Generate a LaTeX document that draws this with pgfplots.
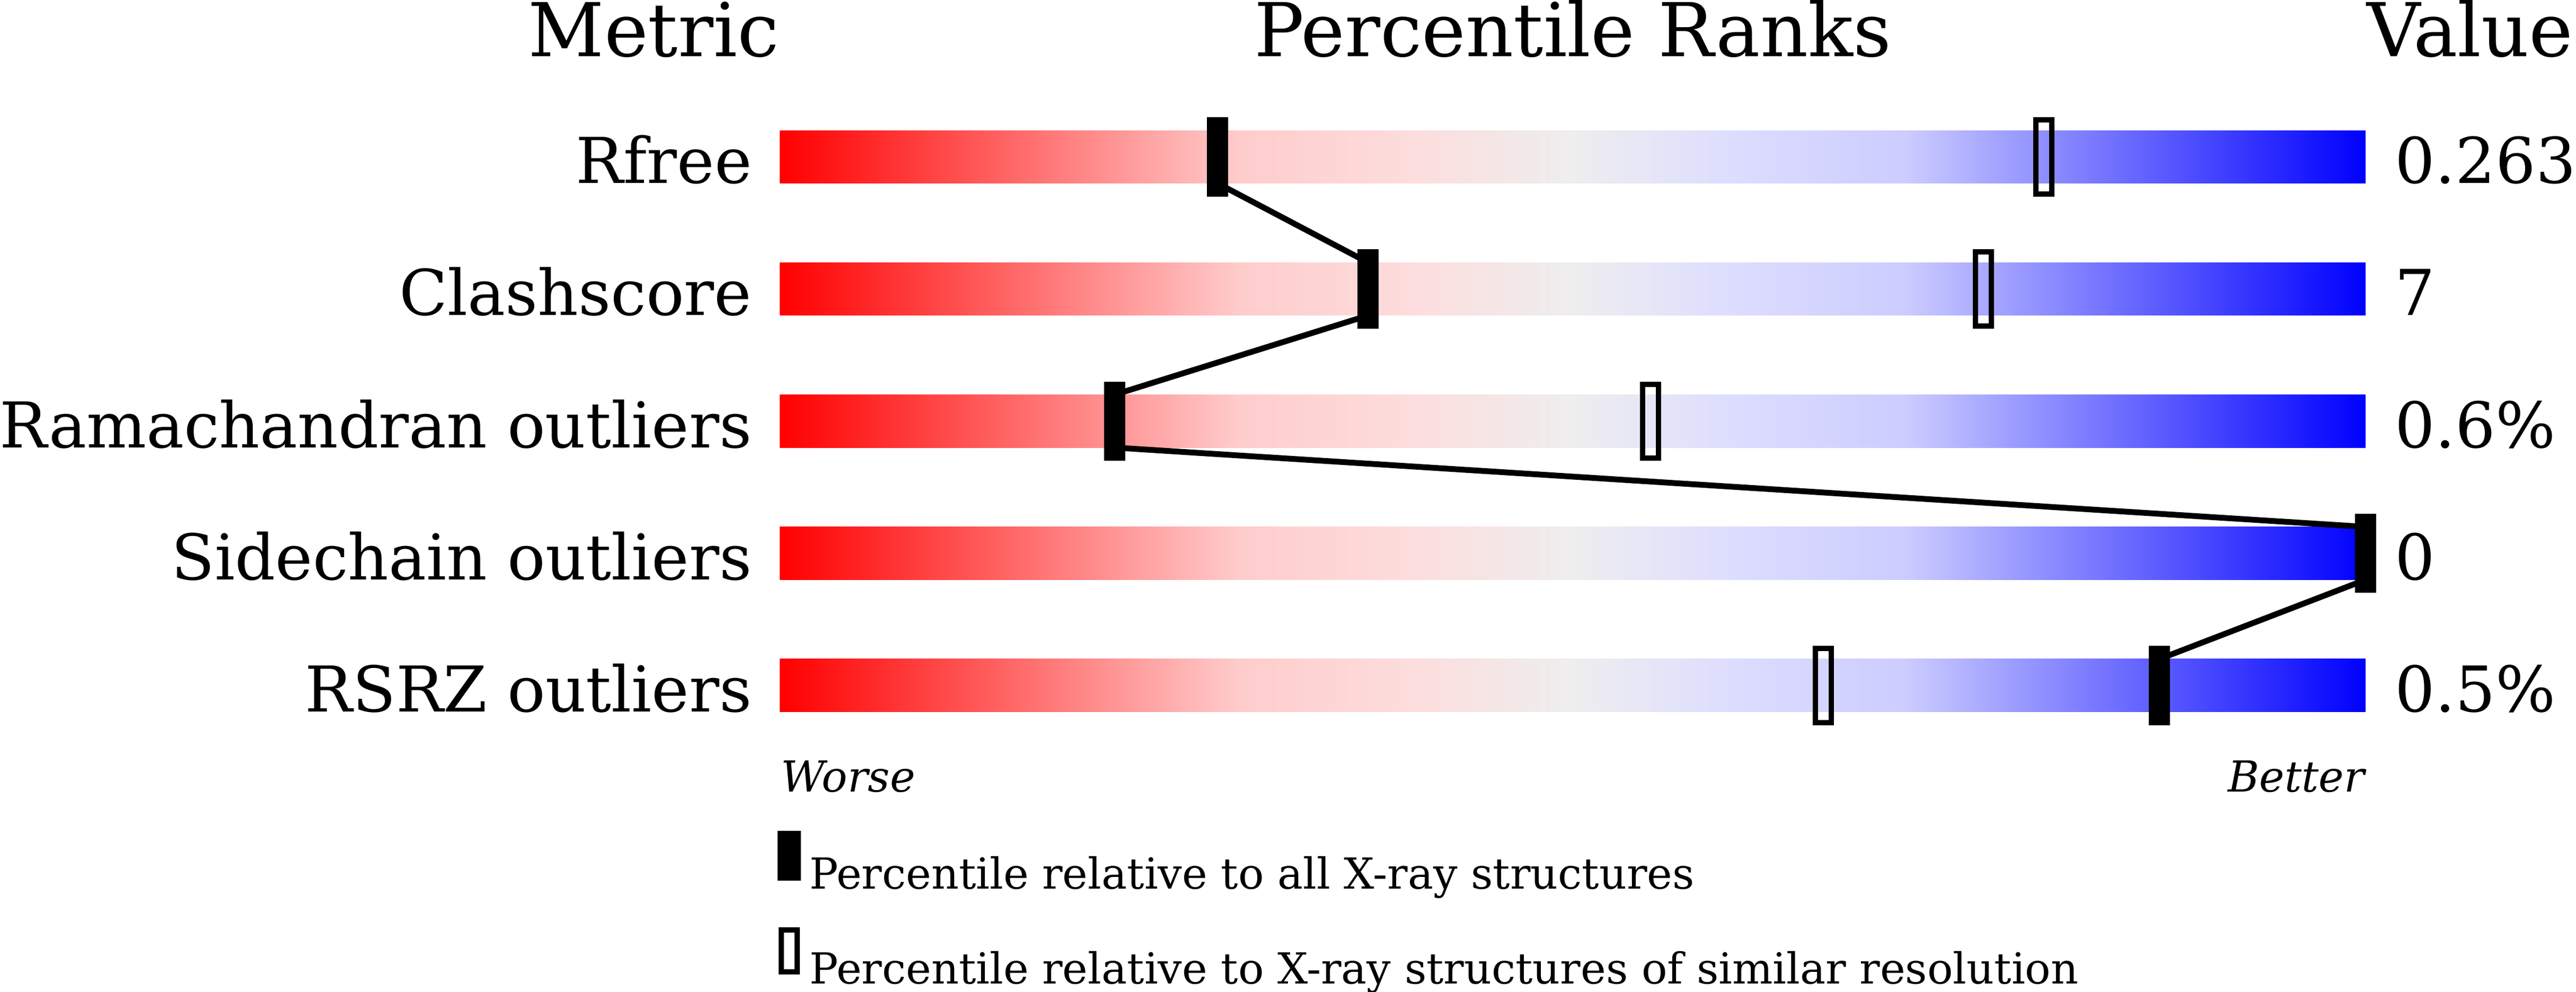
\documentclass[border=0pt]{standalone}
\usepackage{pgfplots}
\pgfplotsset{compat=1.18}
\usepackage{pgfplotstable}
\usepackage{fontspec}
\setmainfont{DejaVu Serif}

% font sizes (1 px = 0.1pt)
\newcommand\fH{\fontsize{14.05}{16}\selectfont}
\newcommand\fR{\fontsize{11.95}{14}\selectfont}
\newcommand\fS{\fontsize{8.09}{10}\selectfont}

\definecolor{pkA}{HTML}{FFCCCC}
\definecolor{pkB}{HTML}{FDDDDD}
\definecolor{grM}{HTML}{EEEEEE}
\definecolor{lvB}{HTML}{DDDDFF}
\definecolor{lvA}{HTML}{CCCCFF}
\pgfdeclarehorizontalshading{prank}{100bp}{color(0bp)=(red); color(25bp)=(red);
  color(39.5bp)=(pkA); color(45bp)=(pkB); color(50bp)=(grM); color(55bp)=(lvB);
  color(60.5bp)=(lvA); color(75bp)=(blue); color(100bp)=(blue)}

\pgfdeclareplotmark{pall}{\pgfpathrectangle{\pgfpoint{-2pt}{-7.5pt}}{\pgfpoint{4pt}{15pt}}\pgfusepathqfill}
\pgfdeclareplotmark{psim}{\pgfpathrectangle{\pgfpoint{-1.5pt}{-7pt}}{\pgfpoint{3pt}{14pt}}\pgfusepathqstroke}

% percentile ranks: all X-ray structures / similar resolution
\pgfplotstableread{
row all  sim
0   27.6 79.7
1   37.1 75.9
2   21.1 54.9
3   100  nan
4   87.0 65.8
}\ranks

% line joining the "all" markers (bar bottom -> next bar top)
\pgfplotstableread{
x    y
27.6 0.2
37.1 0.8
37.1 1.2
21.1 1.8
21.1 2.2
100  2.8
100  3.2
87.0 3.8
}\link

\begin{document}
\begin{tikzpicture}
\begin{axis}[
    scale only axis,
    width=300.1pt, height=183.5pt,
    xmin=0, xmax=100,
    ymin=-1.187, ymax=6.153,
    y dir=reverse,
    axis line style={draw=none},
    tick style={draw=none},
    xtick=\empty,
    ytick={0,1,2,3,4},
    yticklabels={Rfree,Clashscore,Ramachandran outliers,Sidechain outliers,RSRZ outliers},
    yticklabel style={anchor=base east, inner sep=0pt, xshift=-5.1pt, yshift=-5pt, font=\fR},
    clip=false,
    legend style={at={(axis cs:-0.13,5.101)}, anchor=north west, draw=none, fill=none,
        inner sep=0pt, outer sep=0pt, row sep=5.8pt, column sep=1.6pt,
        nodes={inner sep=0pt, font=\fS}},
    legend cell align=left,
]

% gradient sliders
\addplot[draw=none, shade, shading=prank, forget plot] coordinates {(0,-0.2) (100,-0.2) (100,0.2) (0,0.2)};
\addplot[draw=none, shade, shading=prank, forget plot] coordinates {(0,0.8) (100,0.8) (100,1.2) (0,1.2)};
\addplot[draw=none, shade, shading=prank, forget plot] coordinates {(0,1.8) (100,1.8) (100,2.2) (0,2.2)};
\addplot[draw=none, shade, shading=prank, forget plot] coordinates {(0,2.8) (100,2.8) (100,3.2) (0,3.2)};
\addplot[draw=none, shade, shading=prank, forget plot] coordinates {(0,3.8) (100,3.8) (100,4.2) (0,4.2)};

\addplot[black, line width=1.1pt, line join=round, forget plot] table[x=x, y=y] {\link};

\addplot[only marks, black, mark=pall,
    legend image code/.code={\fill[black] (0pt,-0.6pt) rectangle (4pt,8.4pt);}]
    table[x=all, y=row] {\ranks};
\addlegendentry{Percentile relative to all X-ray structures}
\addplot[only marks, black, mark=psim, mark options={line width=1pt},
    legend image code/.code={\draw[black, line width=1pt] (0.5pt,0pt) rectangle (3.5pt,7.9pt);}]
    table[x=sim, y=row] {\ranks};
\addlegendentry{Percentile relative to X-ray structures of similar resolution}

% headers
\node[anchor=base east, inner sep=0pt, font=\fH] at (axis cs:0,-0.759) {Metric};
\node[anchor=base, inner sep=0pt, font=\fH] at (axis cs:50,-0.759) {Percentile Ranks};
\node[anchor=base west, inner sep=0pt, font=\fH] at (axis cs:100,-0.759) {Value};

% values
\node[anchor=base west, inner sep=0pt, font=\fR] at (axis cs:101.8,0.2) {0.263};
\node[anchor=base west, inner sep=0pt, font=\fR] at (axis cs:101.8,1.2) {7};
\node[anchor=base west, inner sep=0pt, font=\fR] at (axis cs:101.8,2.2) {0.6\%};
\node[anchor=base west, inner sep=0pt, font=\fR] at (axis cs:101.8,3.2) {0};
\node[anchor=base west, inner sep=0pt, font=\fR] at (axis cs:101.8,4.2) {0.5\%};

\node[anchor=base west, inner sep=0pt, font=\fS\itshape] at (axis cs:0,4.805) {Worse};
\node[anchor=base east, inner sep=0pt, font=\fS\itshape] at (axis cs:100,4.805) {Better};
\end{axis}
\end{tikzpicture}
\end{document}
